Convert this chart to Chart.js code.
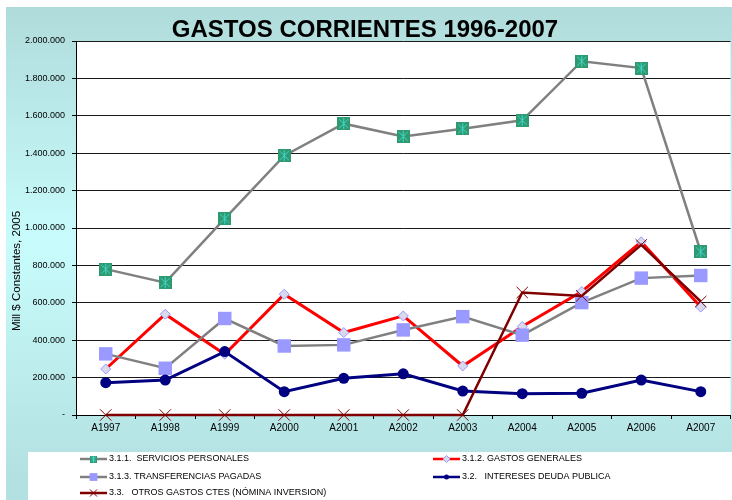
<!DOCTYPE html>
<html>
<head>
<meta charset="utf-8">
<title>Gastos Corrientes 1996-2007</title>
<script src="https://cdn.jsdelivr.net/npm/chart.js@4.4.0/dist/chart.umd.min.js"></script>
<style>
  html, body { margin: 0; padding: 0; overflow: hidden; background: #fff; }
  #wrap { width: 740px; height: 500px; }
</style>
</head>
<body>
<div id="wrap"><canvas id="myChart" width="740" height="500"></canvas></div>
<script>
'use strict'

// DATA
const years = ['A1997', 'A1998', 'A1999', 'A2000', 'A2001', 'A2002', 'A2003', 'A2004', 'A2005', 'A2006', 'A2007'];
const serviciosPersonales = [780000, 708000, 1050000, 1387000, 1558000, 1490000, 1531000, 1576000, 1892000, 1855000, 873000];
const gastosGenerales = [246000, 539000, 325000, 646000, 441000, 530000, 262000, 473000, 660000, 926000, 577000];
const transferencias = [327000, 250000, 516000, 369000, 375000, 455000, 526000, 427000, 601000, 732000, 746000];
const intereses = [173000, 187000, 339000, 125000, 196000, 220000, 128000, 114000, 116000, 187000, 125000];
const otrosGastos = [0, 0, 0, 0, 0, 0, 0, 655000, 637000, 910000, 607000];
const yTicks = [0, 200000, 400000, 600000, 800000, 1000000, 1200000, 1400000, 1600000, 1800000, 2000000];

const seriesNames = [
  '3.1.1.  SERVICIOS PERSONALES',
  '3.1.2. GASTOS GENERALES',
  '3.1.3. TRANSFERENCIAS PAGADAS',
  '3.2.   INTERESES DEUDA PUBLICA',
  '3.3.   OTROS GASTOS CTES (NÓMINA INVERSION)'
];

const FONT = 'Arial, "Liberation Sans", sans-serif';

// green square with a cyan star, like the excel marker
function makeStarSquare(size) {
  let c = document.createElement('canvas');
  c.width = size;
  c.height = size;
  let g = c.getContext('2d');
  g.fillStyle = '#2f9a70';
  g.fillRect(0, 0, size, size);
  g.strokeStyle = '#3fd8d2';
  g.lineWidth = 1;
  let m = size / 2;
  let r = size * 0.34;
  g.beginPath();
  g.moveTo(m, m - r - 1); g.lineTo(m, m + r + 1);
  g.moveTo(m - r, m - r); g.lineTo(m + r, m + r);
  g.moveTo(m + r, m - r); g.lineTo(m - r, m + r);
  g.stroke();
  return c;
}

let bigStar = makeStarSquare(13);
let smallStar = makeStarSquare(7);

function formatMiles(v) {
  if (v === 0) return '-';
  return String(v).replace(/\B(?=(\d{3})+(?!\d))/g, '.');
}

// background, title, axis title and the legend box
const decorPlugin = {
  id: 'decor',
  beforeDraw(chart) {
    let ctx = chart.ctx;
    let area = chart.chartArea;
    ctx.save();
    ctx.fillStyle = '#fff';
    ctx.fillRect(0, 0, chart.width, chart.height);
    let grad = ctx.createLinearGradient(0, 7, 0, 480);
    grad.addColorStop(0, '#b0dbdb');
    grad.addColorStop(0.5, '#c8fcfc');
    grad.addColorStop(1, '#b3e0e0');
    ctx.fillStyle = grad;
    ctx.fillRect(6, 7, chart.width - 6, chart.height - 7);
    ctx.fillStyle = '#fff';
    ctx.fillRect(area.left, area.top, area.right - area.left, area.bottom - area.top);
    ctx.fillRect(28, 452, chart.width - 28, chart.height - 452);

    ctx.fillStyle = '#000';
    ctx.font = 'bold 24px ' + FONT;
    ctx.textAlign = 'center';
    ctx.textBaseline = 'alphabetic';
    ctx.fillText('GASTOS CORRIENTES 1996-2007', 365, 37);

    ctx.translate(17, 271);
    ctx.rotate(-Math.PI / 2);
    ctx.font = '11.5px ' + FONT;
    ctx.textBaseline = 'middle';
    ctx.fillText('Mill $ Constantes, 2005', 0, 0);
    ctx.restore();
  },
  afterDraw(chart) {
    let ctx = chart.ctx;
    let spots = [
      { ds: 0, x: 80, y: 459 },
      { ds: 2, x: 80, y: 477 },
      { ds: 4, x: 80, y: 493 },
      { ds: 1, x: 433, y: 459 },
      { ds: 3, x: 433, y: 477 }
    ];
    ctx.save();
    for (let i = 0; i < spots.length; i++) {
      let s = spots[i];
      let ds = chart.data.datasets[s.ds];
      ctx.strokeStyle = ds.borderColor;
      ctx.lineWidth = 2.5;
      ctx.beginPath();
      ctx.moveTo(s.x, s.y);
      ctx.lineTo(s.x + 27, s.y);
      ctx.stroke();
      ctx.fillStyle = ds.pointBackgroundColor;
      ctx.strokeStyle = ds.pointBorderColor;
      ctx.lineWidth = ds.pointBorderWidth;
      Chart.helpers.drawPoint(ctx, {
        pointStyle: ds.legendStyle,
        radius: ds.legendRadius,
        rotation: 0,
        borderWidth: ds.pointBorderWidth
      }, s.x + 13.5, s.y);
      ctx.fillStyle = '#000';
      ctx.font = '9px ' + FONT;
      ctx.textAlign = 'left';
      ctx.textBaseline = 'middle';
      ctx.fillText(ds.label, s.x + 29, s.y);
    }
    ctx.restore();
  }
};

const data = {
  labels: years,
  datasets: [
    {
      label: seriesNames[0],
      data: serviciosPersonales,
      borderColor: '#808080',
      borderWidth: 2.5,
      pointStyle: bigStar,
      legendStyle: smallStar,
      legendRadius: 4,
      pointBackgroundColor: '#2f9a70',
      pointBorderColor: '#2f9a70',
      pointBorderWidth: 0,
      order: 5
    },
    {
      label: seriesNames[1],
      data: gastosGenerales,
      borderColor: '#ff0000',
      borderWidth: 3,
      pointStyle: 'rectRot',
      legendStyle: 'rectRot',
      pointRadius: 5,
      legendRadius: 3.5,
      pointBackgroundColor: '#d9d9ec',
      pointBorderColor: '#9999ff',
      pointBorderWidth: 1,
      order: 4
    },
    {
      label: seriesNames[2],
      data: transferencias,
      borderColor: '#808080',
      borderWidth: 2.5,
      pointStyle: 'rect',
      legendStyle: 'rect',
      pointRadius: 9.5,
      legendRadius: 5.5,
      pointBackgroundColor: '#9999ff',
      pointBorderColor: '#9999ff',
      pointBorderWidth: 0,
      order: 3
    },
    {
      label: seriesNames[3],
      data: intereses,
      borderColor: '#000080',
      borderWidth: 3,
      pointStyle: 'circle',
      legendStyle: 'circle',
      pointRadius: 5.5,
      legendRadius: 2.5,
      pointBackgroundColor: '#000080',
      pointBorderColor: '#000080',
      pointBorderWidth: 0,
      order: 2
    },
    {
      label: seriesNames[4],
      data: otrosGastos,
      borderColor: '#800000',
      borderWidth: 2.5,
      pointStyle: 'crossRot',
      legendStyle: 'crossRot',
      pointRadius: 8,
      legendRadius: 5,
      pointBackgroundColor: '#800000',
      pointBorderColor: '#800000',
      pointBorderWidth: 1,
      order: 1
    }
  ]
};

data.datasets.forEach(function (ds) {
  ds.fill = false;
  ds.tension = 0;
  ds.clip = false;
  ds.pointHoverRadius = ds.pointRadius;
});

const config = {
  type: 'line',
  data: data,
  options: {
    responsive: false,
    animation: false,
    events: [],
    layout: { padding: { top: 41, right: 3, bottom: 0, left: 0 } },
    plugins: {
      legend: { display: false },
      title: { display: false },
      tooltip: { enabled: false }
    },
    scales: {
      x: {
        offset: true,
        grid: {
          offset: true,
          drawOnChartArea: false,
          drawTicks: true,
          tickLength: 4,
          color: '#000'
        },
        border: { color: '#000', width: 1 },
        ticks: {
          color: '#000',
          padding: 3,
          maxRotation: 0,
          autoSkip: false,
          font: { family: FONT, size: 10 }
        },
        afterFit(scale) { scale.height = 85; }
      },
      y: {
        min: 0,
        max: 2000000,
        afterBuildTicks(scale) {
          scale.ticks = yTicks.map(function (v) { return { value: v }; });
        },
        grid: {
          color: '#1a1a1a',
          lineWidth: 1,
          tickLength: 4,
          tickColor: '#000'
        },
        border: { color: '#000', width: 1 },
        ticks: {
          color: '#000',
          padding: 7,
          font: { family: FONT, size: 9 },
          callback: function (v) { return formatMiles(v); }
        },
        afterFit(scale) { scale.width = 76; }
      }
    }
  },
  plugins: [decorPlugin]
};

let canvasChart = document.getElementById('myChart');
const myChart = new Chart(canvasChart, config);
</script>
</body>
</html>
